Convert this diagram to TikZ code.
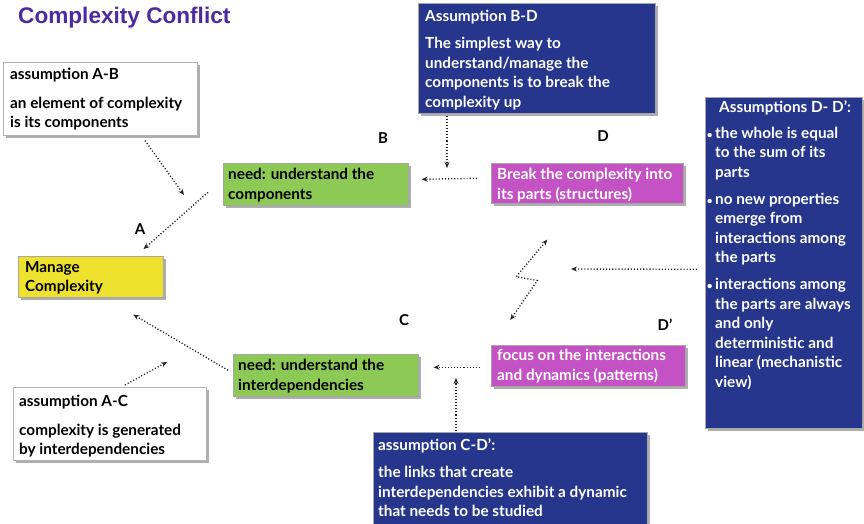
\documentclass[tikz,border=0pt]{standalone}
\usepackage{fontspec}
\setmainfont{Lato}
\newfontfamily\titlefont{Liberation Sans}
\usetikzlibrary{arrows.meta,shadows}

\definecolor{needgreen}{RGB}{141,201,85}
\definecolor{goalyellow}{RGB}{238,226,46}
\definecolor{partmagenta}{RGB}{197,82,196}
\definecolor{assumnavy}{RGB}{38,54,140}
\definecolor{titlepurple}{RGB}{78,42,160}

\newcommand{\boxfont}{\fontsize{15.3}{19.5}\selectfont\bfseries}
\newcommand{\bul}{\llap{{\fontsize{10}{10}\selectfont\textbullet}\hspace{2.5pt}}}

\tikzset{
  panel/.style={rectangle, anchor=north west, inner sep=0pt, draw=black!35,
    line width=0.6pt,
    drop shadow={shadow xshift=2.5pt, shadow yshift=-2.5pt, opacity=0.45, fill=black!70}},
  needbox/.style={panel, fill=needgreen},
  goalbox/.style={panel, fill=goalyellow},
  partbox/.style={panel, fill=partmagenta},
  navybox/.style={panel, fill=assumnavy},
  notebox/.style={panel, fill=white, draw=black!30, drop shadow={opacity=0}},
  txt/.style={anchor=north west, inner sep=0pt, align=left, font=\boxfont},
  wtxt/.style={txt, text=white},
  corner/.style={font=\fontsize{15}{15}\selectfont\bfseries, inner sep=0pt},
  flow/.style={draw=black!85, line width=1.4pt, dash pattern=on 1.1pt off 2pt,
    -{Stealth[length=6pt,width=5pt]}},
  flowboth/.style={flow, {Stealth[length=6pt,width=5pt]}-{Stealth[length=6pt,width=5pt]}}
}

\begin{document}
\begin{tikzpicture}[x=1pt,y=-1pt]
\useasboundingbox (0,0) rectangle (864,524);

% title
\node[anchor=base west, inner sep=0pt, text=titlepurple,
      font=\titlefont\fontsize{22.6}{24}\selectfont\bfseries] (title) at (18,24) {Complexity Conflict};

% boxes
\node[notebox, minimum width=194, minimum height=73] (AB) at (3,62) {};
\node[txt] at (10,68) {assumption A-B\\[9pt]an element of complexity\\is its components};

\node[navybox, minimum width=237, minimum height=110] (BD) at (418,3) {};
\node[wtxt] at (425,10) {Assumption B-D\\[7.5pt]The simplest way to\\understand/manage the\\components is to break the\\complexity up};

\node[needbox, minimum width=185, minimum height=42] (B) at (223,163) {};
\node[txt] at (228,168) {need: understand the\\components};

\node[partbox, minimum width=192, minimum height=40] (D) at (491,163) {};
\node[wtxt] at (497,168) {Break the complexity into\\its parts (structures)};

\node[goalbox, minimum width=145, minimum height=41] (MC) at (18,256) {};
\node[txt] at (25,261) {Manage\\Complexity};

\node[navybox, minimum width=157, minimum height=331] (DD) at (705,97) {};
\node[wtxt] at (715,100) {\hspace*{4pt}Assumptions D- D':\\[6.5pt]
  \bul the whole is equal\\to the sum of its\\parts\\[7.5pt]
  \bul no new properties\\emerge from\\interactions among\\the parts\\[7.5pt]
  \bul interactions among\\the parts are always\\and only\\deterministic and\\linear (mechanistic\\view)};

\node[partbox, minimum width=194, minimum height=41] (Dp) at (491,345) {};
\node[wtxt] at (497,349) {focus on the interactions\\and dynamics (patterns)};

\node[needbox, minimum width=185, minimum height=42] (C) at (233,354) {};
\node[txt] at (238,359) {need: understand the\\interdependencies};

\node[notebox, minimum width=193, minimum height=73] (AC) at (13,387) {};
\node[txt] at (19,395) {assumption A-C\\[9pt]complexity is generated\\by interdependencies};

\node[navybox, minimum width=274, minimum height=96] (CD) at (373,432) {};
\node[wtxt] at (378,438) {assumption C-D':\\[8pt]the links that create\\interdependencies exhibit a dynamic\\that needs to be studied};

% corner letters
\node[corner] (lA) at (140,229) {A};
\node[corner] (lB) at (383,138) {B};
\node[corner] (lD) at (603,136) {D};
\node[corner] (lC) at (404,320) {C};
\node[corner] (lDp) at (665,325) {D'};

% free ends of connectors
\coordinate (abEnd) at (184,195);
\coordinate (bdEnd) at (447,168);
\coordinate (ddEnd) at (571,269);
\coordinate (cdEnd) at (456,378);
\coordinate (acEnd) at (167,362);

% connectors
\draw[flow] ([shift={(142,5)}]AB.south west) -- (abEnd);
\draw[flow] ([shift={(-15,8)}]B.west) -- ([shift={(-20,-7)}]MC.north east);
\draw[flow] ([shift={(29,2)}]BD.south west) -- (bdEnd);
\draw[flow] ([shift={(-14,-5)}]D.west) -- ([shift={(13,-5)}]B.east);
\draw[flowboth] ([shift={(-40,36)}]D.south) -- ++(-31,37) -- ++(21,4) -- ([shift={(-78,-25)}]Dp.north);
\draw[flow] ([shift={(-8,6.5)}]DD.west) -- (ddEnd);
\draw[flow] ([shift={(-11,1.5)}]Dp.west) -- ([shift={(15,-8)}]C.east);
\draw[flow] ([shift={(83,-1)}]CD.north west) -- (cdEnd);
\draw[flow] ([shift={(-5,-5)}]C.west) -- ([shift={(42.5,17)}]MC.south);
\draw[flow] ([shift={(112,-2)}]AC.north west) -- (acEnd);
\end{tikzpicture}
\end{document}
